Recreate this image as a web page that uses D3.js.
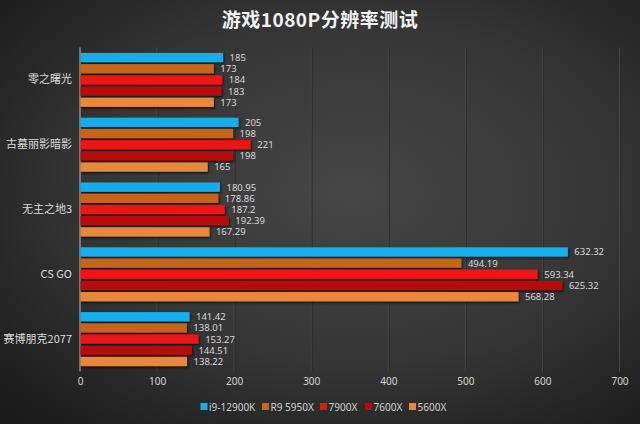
<!DOCTYPE html>
<html><head><meta charset="utf-8">
<script src="https://cdn.jsdelivr.net/npm/d3@7"></script>
<style>html,body{margin:0;padding:0;background:#2a2a2a;}svg{display:block;}</style>
</head><body>
<svg id="chart" width="640" height="424"></svg>
<script>
const title = "游戏1080P分辨率测试";
const categories = ["零之曙光", "古墓丽影暗影", "无主之地3", "CS GO", "赛博朋克2077"];
const seriesNames = ["i9-12900K", "R9 5950X", "7900X", "7600X", "5600X"];
const seriesColors = ["#16aeea", "#c5651d", "#ec1212", "#b50b0b", "#e8883e"];
const s_i9 = [185, 205, 180.95, 632.32, 141.42];
const s_r9 = [173, 198, 178.86, 494.19, 138.01];
const s_7900 = [184, 221, 187.2, 593.34, 153.27];
const s_7600 = [183, 198, 192.39, 625.32, 144.51];
const s_5600 = [173, 165, 167.29, 568.28, 138.22];
const seriesValues = [s_i9, s_r9, s_7900, s_7600, s_5600];
const xTicks = [0, 100, 200, 300, 400, 500, 600, 700];
const labelsText = [
  ["185","205","180.95","632.32","141.42"],
  ["173","198","178.86","494.19","138.01"],
  ["184","221","187.2","593.34","153.27"],
  ["183","198","192.39","625.32","144.51"],
  ["173","165","167.29","568.28","138.22"]
];

const svg = d3.select("#chart");
const W = 640, H = 424;
const defs = svg.append("defs");
const rg = defs.append("radialGradient").attr("id","bg")
  .attr("cx","55%").attr("cy","45%").attr("r","75%");
rg.append("stop").attr("offset","0%").attr("stop-color","#464646");
rg.append("stop").attr("offset","55%").attr("stop-color","#353535");
rg.append("stop").attr("offset","100%").attr("stop-color","#1a1a1a");
const f = defs.append("filter").attr("id","sh").attr("x","-5%").attr("y","-30%").attr("width","115%").attr("height","180%");
f.append("feDropShadow").attr("dx",1).attr("dy",1.5).attr("stdDeviation",0.8)
  .attr("flood-color","#000").attr("flood-opacity",0.7);

svg.append("rect").attr("width",W).attr("height",H).attr("fill","url(#bg)");

const font = "'Noto Sans CJK SC','Noto Sans',sans-serif";
const numFont = "'Noto Sans','Open Sans',sans-serif";

svg.append("text").attr("x",320).attr("y",27).attr("text-anchor","middle")
  .attr("fill","#f2f2f2").attr("font-family",font).attr("font-weight","bold")
  .attr("font-size",19).attr("letter-spacing",0.5).text(title);

const x = d3.scaleLinear().domain([0,700]).range([80,619.5]);
const y0 = d3.scaleBand().domain(categories).range([47.5,371.5]).paddingInner(0).paddingOuter(0);
const y1 = d3.scaleBand().domain(seriesNames).range([5.4, 64.8-5.4]).paddingInner(0.17);

// gridlines
svg.append("g").selectAll("line").data(xTicks.slice(1)).join("line")
  .attr("x1",d=>x(d)).attr("x2",d=>x(d)).attr("y1",47.5).attr("y2",371.5)
  .attr("stroke","#484848").attr("stroke-width",1);
svg.append("g").selectAll("line").data(xTicks.slice(1)).join("line")
  .attr("x1",d=>x(d)+1).attr("x2",d=>x(d)+1).attr("y1",47.5).attr("y2",371.5)
  .attr("stroke","#282828").attr("stroke-width",0.8);

// axis line
svg.append("line").attr("x1",x(0)).attr("x2",x(0)).attr("y1",47.5).attr("y2",371.5)
  .attr("stroke","#a8a8a8").attr("stroke-width",1.2);

// x axis tick labels
const xAxis = d3.axisBottom(x).tickValues(xTicks).tickSize(0).tickPadding(0);
const gx = svg.append("g").attr("transform","translate(0,378)").call(xAxis);
gx.select(".domain").remove();
gx.selectAll("text").attr("fill","#d4d4d4").attr("font-family",numFont).attr("font-size",10).attr("dy","0.71em");

// y category labels
const yAxis = d3.axisLeft(y0).tickSize(0).tickPadding(0);
const gy = svg.append("g").attr("transform","translate(72,0)").call(yAxis);
gy.select(".domain").remove();
gy.selectAll("text").attr("fill","#dcdcdc").attr("font-family",font).attr("font-size",11);

// bars
const groups = svg.append("g").selectAll("g").data(categories).join("g")
  .attr("transform",d=>`translate(0,${y0(d)})`);
groups.each(function(cat, ci){
  const g = d3.select(this);
  seriesNames.forEach((s, si)=>{
    const v = seriesValues[si][ci];
    g.append("rect").attr("x",x(0)+0.5).attr("y",y1(s))
      .attr("width",x(v)-x(0)).attr("height",y1.bandwidth())
      .attr("fill",seriesColors[si]).attr("filter","url(#sh)");
    g.append("text").attr("x",x(v)+7).attr("y",y1(s)+y1.bandwidth()/2)
      .attr("dy","0.36em").attr("fill","#d8d8d8").attr("font-family",numFont)
      .attr("font-size",9.5).text(labelsText[si][ci]);
  });
});

// legend
const legend = svg.append("g").attr("transform","translate(0,407)");
const lx = [200.5, 262, 320, 365, 409];
seriesNames.forEach((s,i)=>{
  legend.append("rect").attr("x",lx[i]).attr("y",-4).attr("width",7).attr("height",7).attr("fill",seriesColors[i]);
  legend.append("text").attr("x",lx[i]+8.5).attr("y",0).attr("dy","0.36em")
    .attr("fill","#d0d0d0").attr("font-family",numFont).attr("font-size",10).text(s);
});
</script>
</body></html>
